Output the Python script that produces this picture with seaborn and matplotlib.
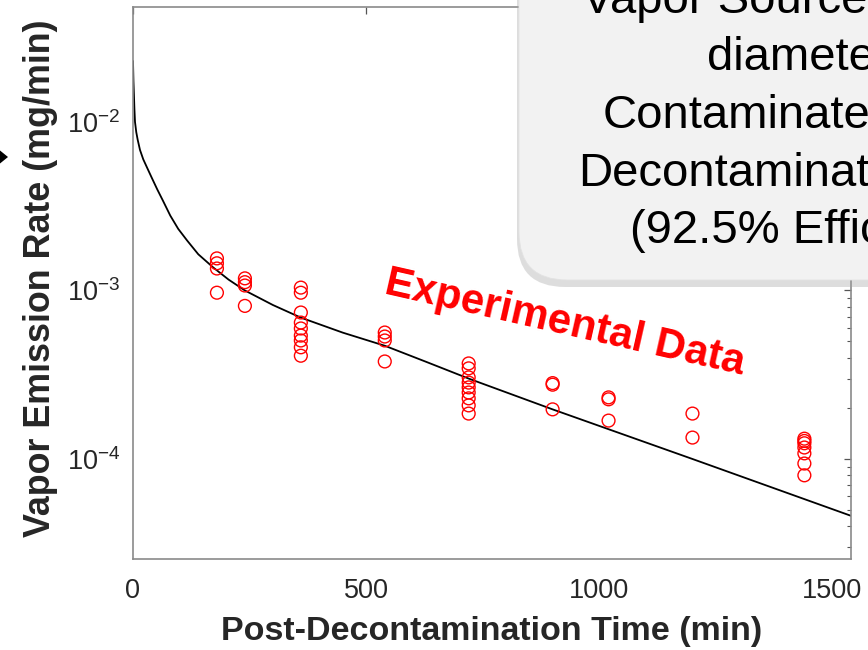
import numpy as np
import pandas as pd
import matplotlib
matplotlib.use("Agg")
import matplotlib.pyplot as plt
import seaborn as sns
from matplotlib.patches import FancyBboxPatch, Polygon
from matplotlib.transforms import IdentityTransform

# ---------------- data ----------------
exp_time = [180, 180, 180, 180,
            240, 240, 240, 240,
            360, 360, 360, 360, 360, 360, 360, 360, 360,
            540, 540, 540, 540,
            720, 720, 720, 720, 720, 720, 720, 720, 720,
            900, 900, 900,
            1020, 1020, 1020,
            1200, 1200,
            1440, 1440, 1440, 1440, 1440, 1440, 1440]
exp_rate = [1.55e-3, 1.45e-3, 1.35e-3, 0.97e-3,
            1.18e-3, 1.12e-3, 1.07e-3, 0.81e-3,
            1.04e-3, 0.97e-3, 0.74e-3, 0.645e-3, 0.595e-3, 0.54e-3, 0.505e-3, 0.46e-3, 0.41e-3,
            0.563e-3, 0.533e-3, 0.505e-3, 0.379e-3,
            0.369e-3, 0.345e-3, 0.305e-3, 0.284e-3, 0.266e-3, 0.248e-3, 0.229e-3, 0.208e-3, 0.186e-3,
            0.282e-3, 0.276e-3, 0.197e-3,
            0.232e-3, 0.226e-3, 0.169e-3,
            0.186e-3, 0.134e-3,
            0.132e-3, 0.128e-3, 0.124e-3, 0.117e-3, 0.108e-3, 0.094e-3, 0.080e-3]

model_time = [0, 1, 2, 3, 4.3, 7, 10, 15, 22, 30, 40, 52, 64, 80, 97, 116, 140,
              172, 205, 240, 300, 360, 450, 540, 630, 720, 900, 1200, 1540]
model_rate = [2.3e-2, 1.74e-2, 1.45e-2, 1.2e-2, 1.0e-2, 8.7e-3, 7.85e-3, 6.82e-3,
              6.0e-3, 5.37e-3, 4.68e-3, 3.98e-3, 3.42e-3, 2.78e-3, 2.32e-3, 1.98e-3,
              1.64e-3, 1.37e-3, 1.16e-3, 1.0e-3, 0.82e-3, 0.69e-3, 0.562e-3, 0.47e-3,
              0.376e-3, 0.30e-3, 0.197e-3, 0.10e-3, 4.6e-5]

x_ticks = [0, 500, 1000, 1500]
x_label = "Post-Decontamination Time (min)"
y_label = "Vapor Emission Rate (mg/min)"
annotation = "Experimental Data"
callout_lines = ["Vapor Source", "diameter", "Contaminated",
                 "Decontaminated", "(92.5% Efficiency)"]

# ---------------- style ----------------
sns.set_style("white")
plt.rcParams["font.family"] = ["Liberation Sans", "DejaVu Sans"]
plt.rcParams["mathtext.fontset"] = "custom"
plt.rcParams["mathtext.rm"] = "Liberation Sans"
plt.rcParams["mathtext.it"] = "Liberation Sans:italic"
plt.rcParams["mathtext.bf"] = "Liberation Sans:bold"
plt.rcParams["axes.unicode_minus"] = False

W, H = 868, 650
fig = plt.figure(figsize=(W / 100, H / 100), dpi=100)
fig.patch.set_facecolor("white")

L, R, T, B = 133, 851, 7, 559
ax = fig.add_axes([L / W, 1 - B / H, (R - L) / W, (B - T) / H])

exp_df = pd.DataFrame({"t": exp_time, "rate": exp_rate})
mod_df = pd.DataFrame({"t": model_time, "rate": model_rate})

sns.lineplot(data=mod_df, x="t", y="rate", ax=ax, color="black", lw=1.3,
             estimator=None, sort=False, zorder=2)
sns.scatterplot(data=exp_df, x="t", y="rate", ax=ax, marker="o", s=85,
                facecolor="none", edgecolor="#ff0000", linewidth=1.0, zorder=3)

ax.set_yscale("log")
ax.set_xlim(0, 1540)
ax.set_ylim(2.55e-5, 0.0481)
ax.set_xticks(x_ticks)
ax.set_xticklabels([str(v) for v in x_ticks])
ax.set_yticks([1e-4, 1e-3, 1e-2])

spine_c = "#8a8a8a"
for s in ax.spines.values():
    s.set_color(spine_c)
    s.set_linewidth(1.2)
    s.set_visible(True)

ax.tick_params(which="both", direction="in", top=True, right=True,
               color="#555555", labelcolor="#262626")
ax.tick_params(which="major", length=5, width=0.9, labelsize=19.5)
ax.tick_params(axis="x", which="major", pad=14)
ax.tick_params(axis="y", which="major", pad=9)
ax.tick_params(which="minor", length=3, width=0.8)

ax.set_xlabel(x_label, fontsize=24.5, fontweight="bold", color="#262626", labelpad=8)
ax.set_ylabel(y_label, fontsize=25.8, fontweight="bold", color="#262626")
ax.yaxis.set_label_coords((58 - L) / (R - L), (B - 278) / (B - T))

# rotated annotation
fig.text(383 / W, 1 - 293 / H, annotation, color="#ff0000", fontsize=30.3,
         fontweight="bold", rotation=-12.8, rotation_mode="anchor",
         ha="left", va="baseline")

# callout box (pixel coordinates, y from bottom)
idt = IdentityTransform()
bx0, by0 = 519, H - 280
shadow = FancyBboxPatch((bx0 - 2, by0 - 7), 600, 500,
                        boxstyle="round,pad=0,rounding_size=48",
                        transform=idt, facecolor="#a0a0a0", edgecolor="none",
                        alpha=0.35, zorder=5)
box = FancyBboxPatch((bx0, by0), 600, 500,
                     boxstyle="round,pad=0,rounding_size=48",
                     transform=idt, facecolor="#f2f2f2", edgecolor="#e2e2e2",
                     linewidth=0.6, zorder=6)
fig.add_artist(shadow)
fig.add_artist(box)

line_x = [582, 707, 603, 578, 630]
line_y = [13, 70, 128, 186, 243]
for txt, lx, ly in zip(callout_lines, line_x, line_y):
    fig.text(lx / W, 1 - ly / H, txt, fontsize=34, color="black",
             ha="left", va="baseline", zorder=7)

# arrow head at left edge
arrow = Polygon([[-8, H - 144], [8, H - 157], [-8, H - 170]], closed=True,
                transform=idt, facecolor="black", edgecolor="none", zorder=7)
fig.add_artist(arrow)

fig.savefig("out.png", dpi=100)
